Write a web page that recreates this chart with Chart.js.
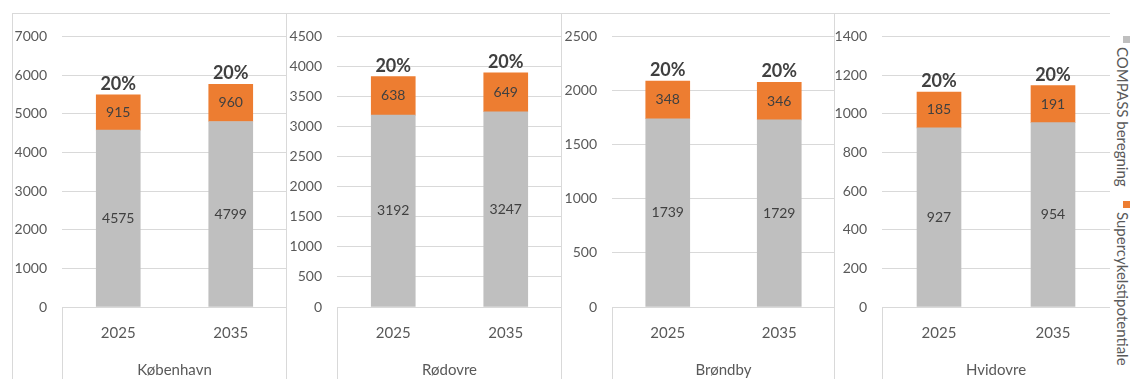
<!DOCTYPE html>
<html><head><meta charset="utf-8">
<script src="https://cdn.jsdelivr.net/npm/chart.js@4.4.1/dist/chart.umd.min.js"></script>
<style>
body{margin:0;background:#fff;width:1130px;height:379px;overflow:hidden;position:relative;font-family:Lato,sans-serif}
canvas{position:absolute;top:13px}
.leg{position:absolute;left:1115px;writing-mode:vertical-rl;font:15px Lato,sans-serif;color:#595959;white-space:nowrap;line-height:16px}
.sw{display:inline-block;width:7px;height:7px;margin-bottom:4px;vertical-align:middle}
</style></head><body>
<script>
const groups = ['København','Rødovre','Brøndby','Hvidovre'];
const years = ['2025','2035'];
const seriesNames = ['COMPASS beregning','Supercykelstipotentiale'];
const seriesColors = ['#bfbfbf','#ed7d31'];
const compass = [[4575,4799],[3192,3247],[1739,1729],[927,954]];
const supercykel = [[915,960],[638,649],[348,346],[185,191]];
const yMax = [7000,4500,2500,1400];
const yStep = [1000,500,500,200];
const shareLabels = compass.map((c,p)=>c.map((v,i)=>Math.round(supercykel[p][i]/v*100)+'%'));

const panelLeft = [12,287,562,835];
const panelWidth = [275,275,273,275];
const axisW = [50,50,50,47];
const legendTop = [36,201];

const framePlugin = {
  id:'frame',
  beforeDraw(chart, args, opts){
    const ctx=chart.ctx, w=chart.width, h=chart.height, a=chart.chartArea;
    ctx.save(); ctx.strokeStyle='#d9d9d9'; ctx.lineWidth=1; ctx.beginPath();
    ctx.moveTo(0,0.5); ctx.lineTo(w,0.5);
    if(opts.first){ctx.moveTo(0.5,0);ctx.lineTo(0.5,h);}
    if(!opts.last){ctx.moveTo(w-0.5,0);ctx.lineTo(w-0.5,h);}
    const lx=Math.round(a.left)+0.5;
    ctx.moveTo(lx,a.bottom);ctx.lineTo(lx,h);
    ctx.stroke(); ctx.restore();
  }
};
const labelPlugin = {
  id:'vals',
  afterDatasetsDraw(chart, args, opts){
    const ctx=chart.ctx;
    ctx.save(); ctx.textAlign='center'; ctx.textBaseline='middle';
    ctx.fillStyle='#404040'; ctx.font='14px Lato, sans-serif';
    chart.data.datasets.forEach((ds,di)=>{
      chart.getDatasetMeta(di).data.forEach((bar,i)=>{
        ctx.fillText(String(ds.data[i]), bar.x, (bar.y+bar.base)/2);
      });
    });
    const top = chart.getDatasetMeta(chart.data.datasets.length-1).data;
    ctx.font='bold 18px Lato, sans-serif';
    top.forEach((bar,i)=>{ ctx.fillText(opts.shares[i], bar.x, bar.y-11); });
    ctx.restore();
  }
};

groups.forEach((g,p)=>{
  const cv=document.createElement('canvas');
  cv.width=panelWidth[p]; cv.height=366; cv.style.left=panelLeft[p]+'px';
  document.body.appendChild(cv);
  new Chart(cv,{
    type:'bar',
    data:{labels:years, datasets:[
      {label:seriesNames[0], data:compass[p], backgroundColor:seriesColors[0], barThickness:44},
      {label:seriesNames[1], data:supercykel[p], backgroundColor:seriesColors[1], barThickness:44}]},
    options:{
      responsive:false, animation:false,
      layout:{padding:{top:12,left:0,right:0,bottom:0}},
      plugins:{legend:{display:false}, tooltip:{enabled:false},
        vals:{shares:shareLabels[p]}, frame:{first:p===0,last:p===3}},
      scales:{
        x:{stacked:true, grid:{display:false, drawTicks:false}, border:{display:false},
          ticks:{color:'#595959', font:{family:'Lato',size:15}, padding:17, maxRotation:0},
          title:{display:true, text:g, color:'#595959', font:{family:'Lato',size:15}, padding:{top:0,bottom:0}},
          afterFit:s=>{s.height=72;}},
        y:{stacked:true, min:0, max:yMax[p],
          ticks:{stepSize:yStep[p], color:'#595959', font:{family:'Lato',size:14}, padding:15,
            callback:v=>String(v)},
          grid:{color:'#d9d9d9', drawTicks:false}, border:{display:false},
          afterFit:s=>{s.width=axisW[p];}}
      }
    },
    plugins:[framePlugin,labelPlugin]
  });
});

seriesNames.forEach((n,i)=>{
  const d=document.createElement('div'); d.className='leg'; d.style.top=legendTop[i]+'px';
  const sw=document.createElement('span'); sw.className='sw'; sw.style.background=seriesColors[i];
  d.appendChild(sw); d.appendChild(document.createTextNode(n));
  document.body.appendChild(d);
});
</script>
</body></html>
